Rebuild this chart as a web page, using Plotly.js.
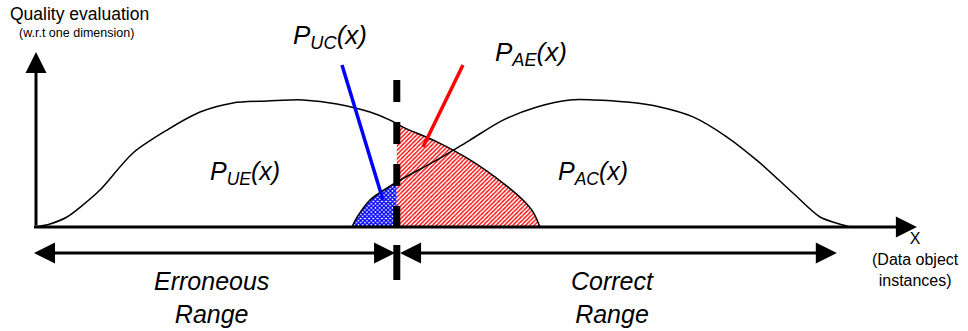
<!DOCTYPE html>
<html>
<head>
<meta charset="utf-8">
<script src="https://cdn.plot.ly/plotly-3.0.1.min.js"></script>
<style>html,body{margin:0;padding:0;background:#fff;}#chart{width:968px;height:331px;}</style>
</head>
<body>
<div id="chart"></div>
<script>
// Unacceptable-error curve P_UE(x) (x: data object instances 0-100, y: quality 0-100)
const xUE = [0, 1.59, 3.52, 5.34, 7.27, 11.02, 14.89, 18.64, 22.39, 26.25, 28.86, 30.34, 34.2, 37.95, 40.23, 41.7, 45.57, 49.32, 53.07, 55.34, 56.48, 57.27];
const yUE = [0, 1.7, 5.7, 12.6, 21.1, 42.3, 55.4, 65.7, 70.9, 72.0, 72.6, 72.6, 70.3, 65.7, 61.1, 57.1, 48.6, 38.3, 25.1, 15.4, 8.6, 0];
// Acceptable-correct curve P_AC(x)
const xAC = [35.9, 36.5, 37.95, 41.0, 45.57, 49.32, 53.07, 56.93, 60.68, 63.3, 67.16, 70.9, 74.66, 78.52, 82.27, 86.02, 89.09, 91.7, 92.5];
const yAC = [0, 5.7, 15.4, 25.7, 38.3, 49.7, 61.1, 68.6, 72.6, 72.6, 71.4, 68.6, 62.9, 51.4, 36.6, 19.4, 5.7, 1.1, 0];
// Threshold between erroneous and correct range
const cutX = 41.0;
const cutUE = 59.4;   // P_UE value at the threshold
// Text labels
const curveLabels = ['P<sub>UE</sub>(x)', 'P<sub>AC</sub>(x)', 'P<sub>UC</sub>(x)', 'P<sub>AE</sub>(x)'];
const rangeLabels = ['Erroneous<br>Range', 'Correct<br>Range'];
const yTitle = ['Quality evaluation', '(w.r.t one dimension)'];
const xTitle = 'X<br>(Data object<br>instances)';

// Derived fill regions
const blueX = xAC.filter(v => v <= cutX);
const blueY = yAC.slice(0, blueX.length);
const redX = [cutX], redY = [cutUE];
xUE.forEach((v, i) => { if (v > cutX) { redX.push(v); redY.push(yUE[i]); } });

const FONT = 'Liberation Sans, Arial, sans-serif';

const traces = [
  {x: blueX, y: blueY, type: 'scatter', mode: 'lines', line: {width: 0, shape: 'spline', smoothing: 0.8},
   fill: 'tozeroy', fillcolor: 'rgba(0,0,0,0)',
   fillpattern: {shape: 'x', fgcolor: '#0000ff', bgcolor: '#ffffff', size: 3, solidity: 0.7}, hoverinfo: 'skip'},
  {x: redX, y: redY, type: 'scatter', mode: 'lines', line: {width: 0, shape: 'spline', smoothing: 0.8},
   fill: 'tozeroy', fillcolor: 'rgba(0,0,0,0)',
   fillpattern: {shape: '/', fgcolor: '#ff0000', bgcolor: '#ffffff', size: 3, solidity: 0.45}, hoverinfo: 'skip'},
  {x: xUE, y: yUE, type: 'scatter', mode: 'lines', line: {color: '#000', width: 1.5, shape: 'spline', smoothing: 0.8}, hoverinfo: 'skip'},
  {x: xAC, y: yAC, type: 'scatter', mode: 'lines', line: {color: '#000', width: 1.5, shape: 'spline', smoothing: 0.8}, hoverinfo: 'skip'}
];

function arrow(x, y, ax, ay, both) {
  return {x: x, y: y, ax: ax, ay: ay, xref: 'x', yref: 'y', axref: 'x', ayref: 'y', text: '',
    showarrow: true, arrowhead: 2, arrowsize: 1.4, arrowwidth: 3, arrowcolor: '#000',
    arrowside: both ? 'end+start' : 'end', startarrowhead: 2, startarrowsize: 1.4, standoff: 0, startstandoff: 0};
}
function label(x, y, text, size, italic, extra) {
  return Object.assign({x: x, y: y, xref: 'x', yref: 'y', text: italic ? '<i>' + text + '</i>' : text,
    showarrow: false, font: {family: FONT, size: size, color: '#000'}, xanchor: 'center', yanchor: 'middle'}, extra || {});
}

const annotations = [
  arrow(0, 100, 0, 0, false),           // y axis
  arrow(100.1, 0, -0.4, 0, false),      // x axis
  arrow(40.8, -14.9, -0.4, -14.9, true),  // erroneous range
  arrow(91.0, -14.9, 41.2, -14.9, true),  // correct range
  label(23.7, 31, curveLabels[0], 25, true),
  label(63.3, 31, curveLabels[1], 25, true),
  label(33.4, 109, curveLabels[2], 26, true),
  label(56.3, 99.3, curveLabels[3], 26, true),
  label(19.9, -40.2, rangeLabels[0], 25, true),
  label(65.5, -40.2, rangeLabels[1], 25, true),
  label(99.9, -18.3, xTitle, 16, false),
  label(-3.2, 121.7, yTitle[0], 17.5, false, {xanchor: 'left'}),
  label(-2.2, 110.9, yTitle[1], 12.5, false, {xanchor: 'left'})
];

const shapes = [
  {type: 'line', xref: 'x', yref: 'y', x0: cutX, x1: cutX, y0: 84, y1: -3.5,
   line: {color: '#000', width: 7, dash: '22px,20px'}},
  {type: 'line', xref: 'x', yref: 'y', x0: cutX, x1: cutX, y0: -10.3, y1: -30.3,
   line: {color: '#000', width: 7}},
  {type: 'line', xref: 'x', yref: 'y', x0: 34.77, y0: 92.6, x1: 39.43, y1: 15.4,
   line: {color: '#0000ff', width: 3.5}},
  {type: 'line', xref: 'x', yref: 'y', x0: 48.52, y0: 92.6, x1: 43.98, y1: 45.7,
   line: {color: '#ff0000', width: 3.5}}
];

const layout = {
  width: 968, height: 331,
  margin: {l: 0, r: 0, t: 0, b: 0},
  paper_bgcolor: '#fff', plot_bgcolor: '#fff',
  showlegend: false,
  xaxis: {range: [-4.0909, 105.909], visible: false, fixedrange: true},
  yaxis: {range: [-59.43, 129.71], visible: false, fixedrange: true},
  annotations: annotations,
  shapes: shapes
};

Plotly.newPlot('chart', traces, layout, {displayModeBar: false, staticPlot: true});
</script>
</body>
</html>
